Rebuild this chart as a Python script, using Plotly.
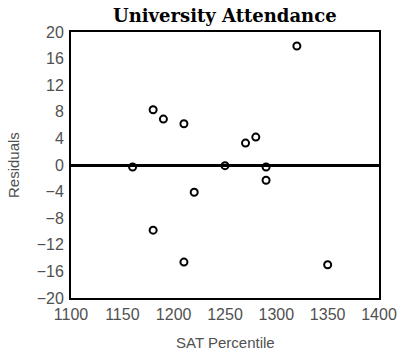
import plotly.graph_objects as go

sat = [1160, 1180, 1190, 1210, 1250, 1270, 1280, 1290, 1320, 1290, 1220, 1180, 1210, 1350]
resid = [-0.3, 8.3, 6.9, 6.2, -0.1, 3.3, 4.2, -0.3, 17.9, -2.3, -4.1, -9.8, -14.6, -15.0]
xticks = [1100, 1150, 1200, 1250, 1300, 1350, 1400]
yticks = [-20, -16, -12, -8, -4, 0, 4, 8, 12, 16, 20]

fig = go.Figure()
fig.add_trace(go.Scatter(
    x=sat, y=resid, mode="markers",
    marker=dict(symbol="circle-open", size=7, color="black", line=dict(width=2, color="black")),
))

sans = "Liberation Sans, Arial, sans-serif"
tickfont = dict(family=sans, size=16, color="#505050")
fig.update_layout(
    width=409, height=353,
    margin=dict(l=71, r=20, t=32, b=55),
    paper_bgcolor="white", plot_bgcolor="white",
    showlegend=False,
    xaxis=dict(range=[1100, 1400], tickvals=xticks, ticktext=[str(v) for v in xticks],
               showgrid=False, zeroline=False, showline=True, mirror=True, linecolor="black", linewidth=2,
               ticks="", tickfont=tickfont, ticklabelstandoff=1),
    yaxis=dict(range=[-20, 20], tickvals=yticks, ticktext=[str(v).replace("-", "\u2212") for v in yticks],
               showgrid=False, zeroline=True, zerolinecolor="black", zerolinewidth=3,
               showline=True, mirror=True, linecolor="black", linewidth=2,
               ticks="", tickfont=tickfont, ticklabelstandoff=2),
    annotations=[
        dict(text="<b>University Attendance</b>", xref="paper", yref="paper", x=0.5, y=1,
             xanchor="center", yanchor="middle", yshift=17, showarrow=False,
             font=dict(family="DejaVu Serif, serif", size=18, color="black")),
        dict(text="SAT Percentile", xref="paper", yref="paper", x=0.5, y=0,
             xanchor="center", yanchor="middle", yshift=-44, showarrow=False,
             font=dict(family=sans, size=15, color="#505050")),
        dict(text="Residuals", xref="paper", yref="paper", x=0, y=0.5, textangle=-90,
             xanchor="center", yanchor="middle", xshift=-58, showarrow=False,
             font=dict(family=sans, size=15, color="#505050")),
    ],
)
fig.write_html("out.html", config={"displayModeBar": False},
               post_script="document.body.style.margin='0';")
